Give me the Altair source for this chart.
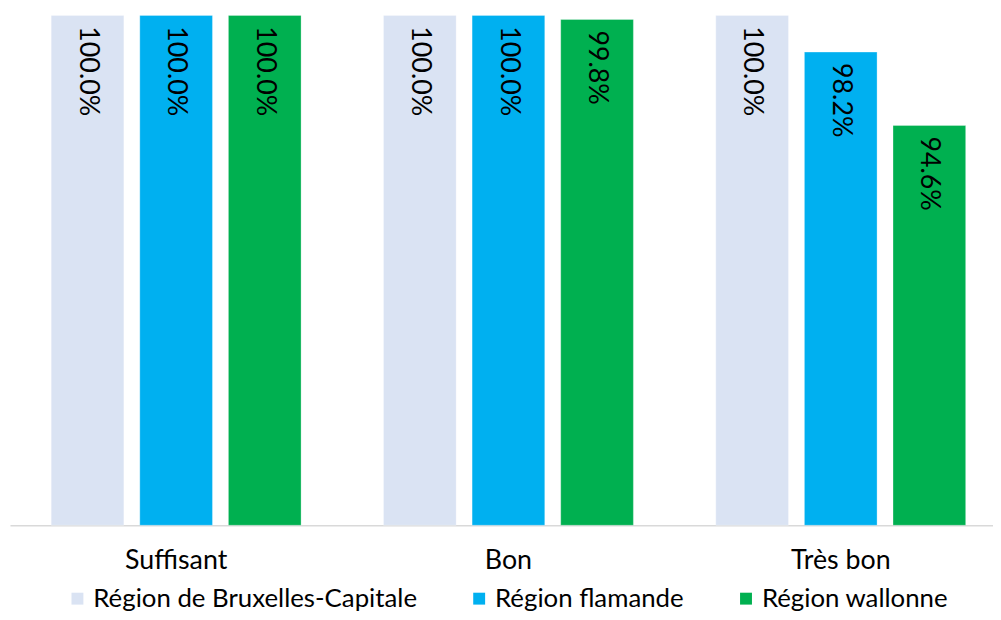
import altair as alt
import pandas as pd

categories = ["Suffisant", "Bon", "Très bon"]
regions = ["Région de Bruxelles-Capitale", "Région flamande", "Région wallonne"]
colors = ["#DAE3F3", "#00B0F0", "#00B050"]
bruxelles = [100.0, 100.0, 100.0]
flamande = [100.0, 100.0, 98.2]
wallonne = [100.0, 99.8, 94.6]

rows = []
for i, c in enumerate(categories):
    for r, vals in zip(regions, [bruxelles, flamande, wallonne]):
        rows.append({"cat": c, "region": r, "value": vals[i]})
df = pd.DataFrame(rows)

FONT = "Lato"

base = alt.Chart(df).encode(
    x=alt.X("cat:N", sort=categories, title=None,
            scale=alt.Scale(paddingInner=0.2, paddingOuter=0.1, range=[0, 1005]),
            axis=alt.Axis(labelAngle=0, labelFontSize=27, labelFont=FONT,
                          labelColor="#000000", ticks=False, domainColor="#D9D9D9",
                          domainWidth=1.5, labelPadding=23, grid=False)),
    xOffset=alt.XOffset("region:N", sort=regions,
                        scale=alt.Scale(paddingInner=0.18, paddingOuter=0.09)),
)

bars = base.mark_bar(stroke="#ffffff", strokeWidth=0.5, strokeOpacity=0.6).encode(
    y=alt.Y("value:Q", scale=alt.Scale(domain=[75, 100], nice=False, zero=False), axis=None),
    y2=alt.datum(75),
    color=alt.Color("region:N", sort=regions,
                    scale=alt.Scale(domain=regions, range=colors),
                    legend=alt.Legend(title=None, orient="none", legendX=55, legendY=575,
                                      direction="horizontal",
                                      symbolType="square", symbolSize=144,
                                      symbolStrokeWidth=0, labelFontSize=26,
                                      labelFont=FONT, labelColor="#000000", labelLimit=0,
                                      columnPadding=49, labelOffset=3)),
)

labels = base.mark_text(angle=90, align="left", baseline="middle", dx=11,
                        fontSize=27, font=FONT, color="#000000").transform_calculate(
    label="format(datum.value, '.1f') + '%'"
).encode(
    y=alt.Y("value:Q", scale=alt.Scale(domain=[75, 100], nice=False, zero=False)),
    text="label:N",
)

chart = (bars + labels).properties(
    width=991, height=514,
    autosize=alt.AutoSizeParams(type="none"),
    padding={"left": 2, "top": 5, "right": 0, "bottom": 85},
).configure_view(stroke=None)

chart.save("out.html", embed_options={"renderer": "svg", "actions": False})
